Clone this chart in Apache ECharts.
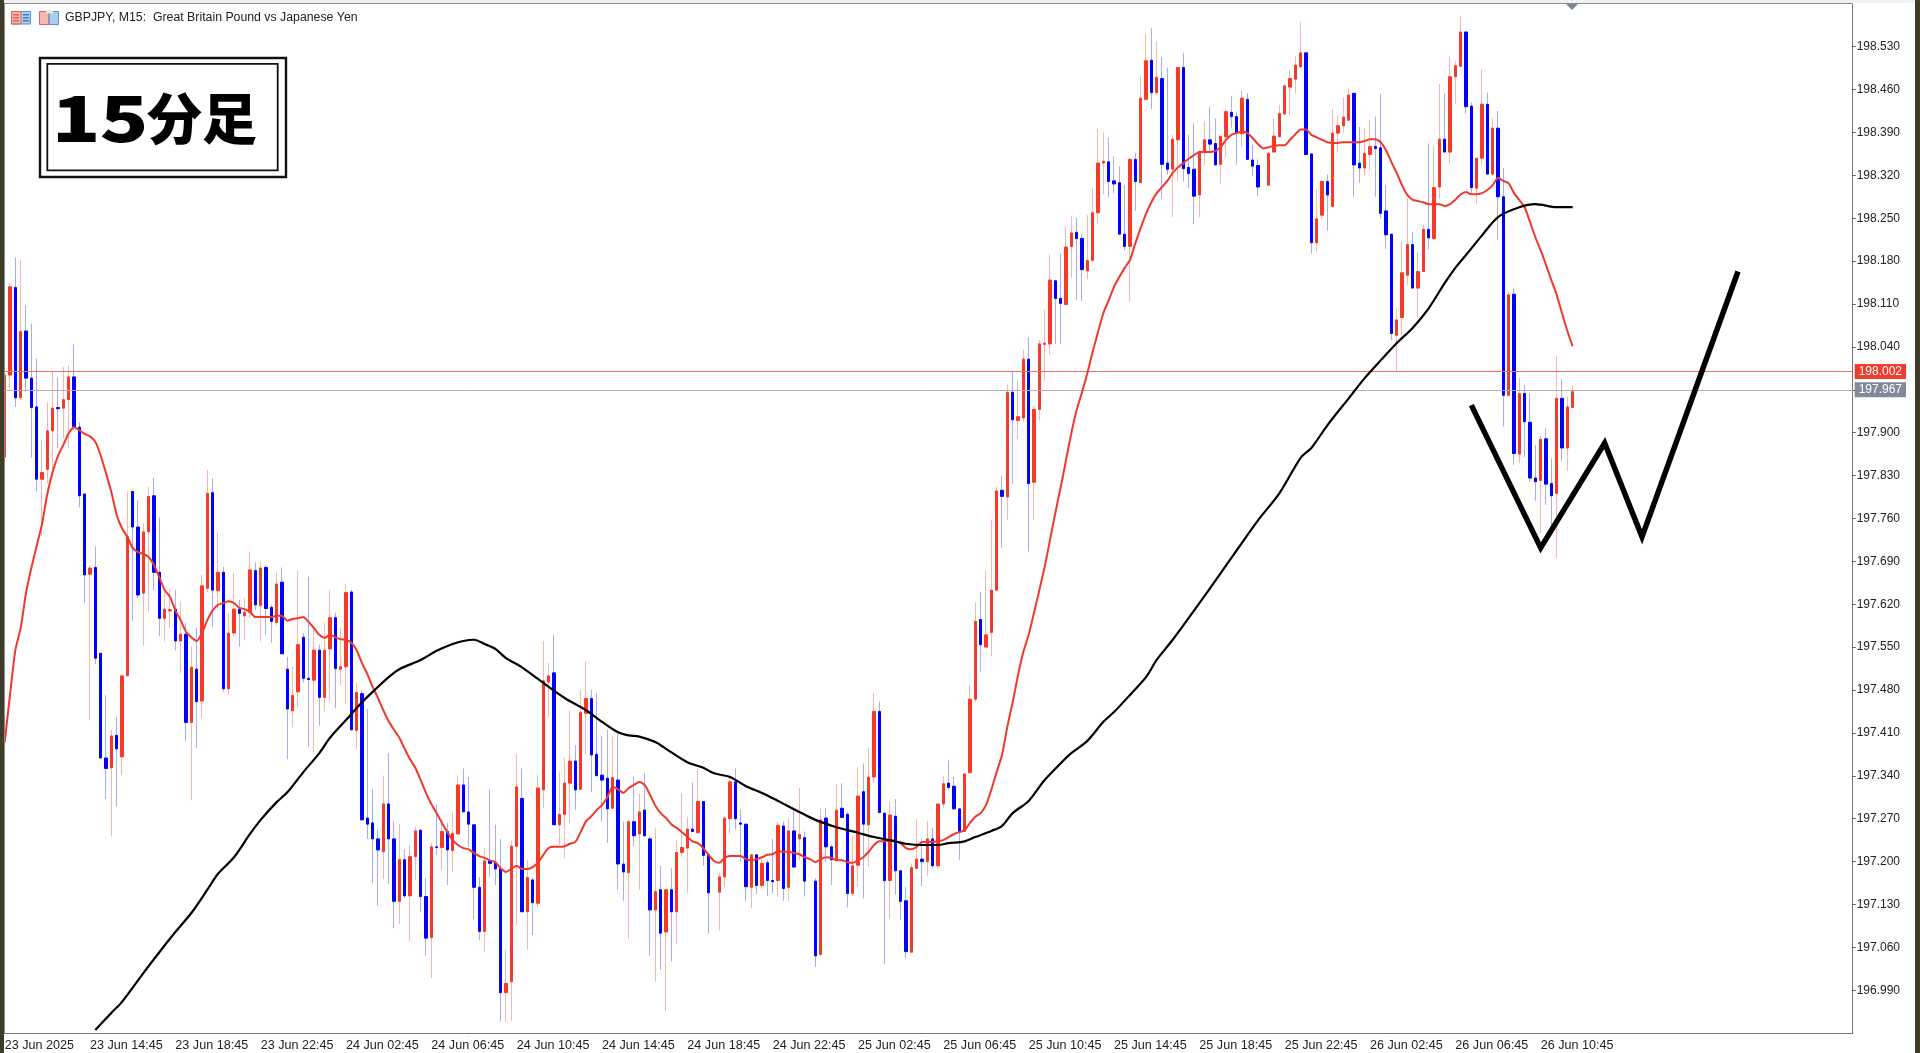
<!DOCTYPE html>
<html><head><meta charset="utf-8"><title>GBPJPY M15</title>
<style>html,body{margin:0;padding:0;background:#fff}#c{width:1920px;height:1053px}</style>
<script src="https://cdn.jsdelivr.net/npm/echarts@6/dist/echarts.min.js"></script></head>
<body><div id="c"></div>
<script>
const tickLabels=["23 Jun 2025","23 Jun 14:45","23 Jun 18:45","23 Jun 22:45","24 Jun 02:45","24 Jun 06:45","24 Jun 10:45","24 Jun 14:45","24 Jun 18:45","24 Jun 22:45","25 Jun 02:45","25 Jun 06:45","25 Jun 10:45","25 Jun 14:45","25 Jun 18:45","25 Jun 22:45","26 Jun 02:45","26 Jun 06:45","26 Jun 10:45"];
const opens=[197.860,197.994,198.137,197.957,198.066,197.989,197.942,197.824,197.840,197.903,
197.941,197.940,197.954,197.991,197.909,197.800,197.669,197.680,197.540,197.369,
197.353,197.406,197.371,197.503,197.804,197.746,197.638,197.738,197.797,197.672,
197.597,197.609,197.612,197.560,197.571,197.427,197.514,197.462,197.646,197.802,
197.642,197.672,197.482,197.573,197.612,197.601,197.607,197.675,197.618,197.680,
197.615,197.590,197.656,197.514,197.446,197.477,197.566,197.499,197.496,197.545,
197.468,197.547,197.598,197.514,197.518,197.640,197.414,197.474,197.271,197.263,
197.237,197.216,197.294,197.237,197.135,197.203,197.144,197.208,197.251,197.143,
197.076,197.224,197.223,197.249,197.218,197.245,197.325,197.281,197.260,197.158,
197.086,197.201,197.198,197.188,196.986,197.004,197.225,197.303,197.118,197.170,
197.132,197.317,197.493,197.508,197.260,197.277,197.328,197.364,197.318,197.442,
197.466,197.375,197.341,197.336,197.287,197.333,197.196,197.182,197.265,197.245,
197.284,197.237,197.121,197.154,197.085,197.154,197.118,197.215,197.222,197.253,
197.247,197.298,197.211,null,197.150,197.175,197.270,197.330,197.263,197.261,
197.158,197.211,197.161,197.198,197.169,197.169,197.258,197.158,197.250,197.237,
197.239,null,197.168,197.048,197.271,197.224,197.203,197.287,197.277,197.148,
197.194,197.314,197.260,197.338,197.445,197.279,197.169,197.274,197.185,197.136,
197.052,197.189,197.204,197.200,197.237,197.193,197.294,197.328,197.323,197.286,
197.249,197.345,197.465,197.595,197.550,197.574,197.643,197.806,197.795,197.966,
197.920,197.924,198.020,197.819,197.938,198.044,198.045,198.148,198.119,198.109,
198.204,198.227,198.217,198.164,198.181,198.259,198.340,198.342,198.311,198.308,
198.224,198.204,198.346,198.308,198.444,198.508,198.455,198.478,198.340,198.330,
198.378,198.496,198.333,198.330,198.288,198.358,198.378,198.372,198.338,198.383,
198.423,198.416,198.388,198.444,198.345,198.336,null,198.304,198.358,198.383,
198.420,198.464,198.477,198.497,198.520,198.355,198.210,198.255,198.310,198.269,
198.389,198.401,198.410,198.454,198.340,198.332,198.354,198.367,198.365,198.262,
198.224,198.059,198.088,198.157,198.207,198.136,198.163,198.232,198.217,198.301,
198.379,198.358,198.481,198.498,198.554,198.433,198.299,198.348,198.436,198.322,
198.397,198.285,197.961,198.126,197.865,197.964,197.917,197.826,197.822,197.890,
197.817,197.801,197.956,197.875,197.941];
const closes=[197.994,198.138,197.957,198.065,197.989,197.941,197.824,197.835,197.903,197.940,
197.939,197.954,197.991,197.910,197.797,197.668,197.679,197.532,197.369,197.352,
197.405,197.384,197.503,197.730,197.746,197.635,197.738,197.796,197.672,197.597,
197.612,197.611,197.560,197.571,197.427,197.517,197.461,197.650,197.801,197.643,
197.672,197.482,197.573,197.612,197.605,197.607,197.676,197.619,197.679,197.613,
197.592,197.653,197.539,197.449,197.471,197.554,197.499,197.497,197.545,197.468,
197.545,197.598,197.515,197.518,197.639,197.415,197.476,197.268,197.261,197.237,
197.219,197.294,197.237,197.135,197.203,197.144,197.208,197.250,197.143,197.075,
197.224,197.223,197.249,197.219,197.246,197.325,197.281,197.261,197.158,197.086,
197.201,197.197,197.188,196.986,197.001,197.225,197.322,197.118,197.174,197.133,
197.320,197.495,197.503,197.260,197.277,197.328,197.364,197.317,197.443,197.466,
197.374,197.340,197.333,197.286,197.337,197.196,197.183,197.265,197.242,197.281,
197.242,197.121,197.151,197.083,197.154,197.118,197.215,197.223,197.253,197.249,
197.298,197.210,197.149,null,197.175,197.271,197.330,197.270,197.261,197.159,
197.211,197.161,197.197,197.169,197.167,197.259,197.156,197.250,197.191,197.244,
197.168,null,197.046,197.268,197.224,197.203,197.284,197.272,197.148,197.193,
197.307,197.261,197.338,197.445,197.280,197.169,197.276,197.185,197.135,197.053,
197.190,197.204,197.200,197.237,197.193,197.294,197.327,197.321,197.286,197.249,
197.343,197.465,197.592,197.554,197.570,197.643,197.805,197.796,197.966,197.921,
197.926,198.020,197.817,197.938,198.045,198.046,198.149,198.119,198.111,198.203,
198.226,198.217,198.166,198.181,198.259,198.340,198.343,198.310,198.306,198.224,
198.204,198.346,198.310,198.446,198.507,198.455,198.480,198.338,198.330,198.379,
198.496,198.331,198.323,198.286,198.358,198.378,198.371,198.337,198.384,198.424,
198.416,198.389,198.446,198.346,198.335,198.301,null,198.356,198.384,198.421,
198.466,198.478,198.500,198.520,198.354,198.210,198.249,198.310,198.288,198.389,
198.401,198.415,198.451,198.337,198.332,198.356,198.367,198.364,198.258,198.223,
198.062,198.084,198.161,198.207,198.136,198.163,198.232,198.218,198.300,198.379,
198.358,198.481,198.499,198.554,198.432,198.300,198.348,198.436,198.322,198.397,
198.285,197.961,198.125,197.866,197.964,197.918,197.826,197.820,197.889,197.816,
197.797,197.956,197.875,197.942,197.967];
const highs=[197.994,198.145,198.186,198.182,198.108,198.078,198.021,197.888,197.949,198.000,
197.990,198.007,198.010,198.044,197.917,197.800,197.684,197.714,197.540,197.472,
197.415,197.436,197.506,197.804,197.804,197.790,197.752,197.812,197.826,197.762,
197.641,197.646,197.643,197.624,197.590,197.551,197.581,197.668,197.839,197.826,
197.737,197.681,197.606,197.671,197.627,197.630,197.706,197.688,197.689,197.684,
197.619,197.672,197.680,197.534,197.519,197.675,197.573,197.665,197.583,197.554,
197.589,197.643,197.606,197.581,197.653,197.643,197.491,197.480,197.449,197.318,
197.252,197.340,197.377,197.265,197.261,197.220,197.227,197.257,197.254,197.173,
197.231,197.293,197.268,197.263,197.280,197.340,197.352,197.338,197.260,197.175,
197.222,197.318,197.260,197.237,197.056,197.234,197.376,197.352,197.203,197.173,
197.341,197.560,197.524,197.570,197.347,197.369,197.447,197.390,197.480,197.527,
197.480,197.475,197.405,197.415,197.404,197.408,197.265,197.268,197.338,197.311,
197.344,197.241,197.254,197.193,197.154,197.189,197.235,197.311,197.273,197.329,
197.351,197.298,197.211,null,197.181,197.274,197.341,197.352,197.285,197.261,
197.211,197.212,197.205,197.203,197.237,197.263,197.265,197.271,197.284,197.320,
197.249,null,197.173,197.287,197.287,197.227,197.326,197.328,197.281,197.242,
197.353,197.360,197.385,197.475,197.461,197.279,197.298,197.302,197.185,197.159,
197.197,197.269,197.238,197.266,197.255,197.294,197.340,197.365,197.338,197.286,
197.343,197.488,197.623,197.640,197.675,197.758,197.812,197.829,197.979,198.001,
197.985,198.035,198.056,197.943,198.051,198.100,198.191,198.148,198.192,198.236,
198.253,198.251,198.224,198.255,198.299,198.397,198.390,198.382,198.351,198.335,
198.304,198.349,198.357,198.481,198.551,198.560,198.539,198.513,198.496,198.386,
198.496,198.520,198.386,198.405,198.361,198.409,198.432,198.413,198.384,198.428,
198.449,198.424,198.459,198.454,198.370,198.346,null,198.358,198.412,198.435,
198.469,198.493,198.514,198.570,198.520,198.355,198.298,198.312,198.321,198.428,
198.417,198.447,198.462,198.454,198.399,198.397,198.410,198.416,198.453,198.304,
198.224,198.103,198.212,198.283,198.228,198.195,198.239,198.372,198.368,198.469,
198.453,198.514,198.506,198.581,198.554,198.439,198.348,198.493,198.455,198.413,
198.425,198.332,198.130,198.136,197.990,197.978,197.964,197.880,197.896,197.907,
197.858,198.025,197.988,197.959,197.978];
const lows=[197.860,197.970,197.942,197.953,197.967,197.859,197.804,197.731,197.817,197.828,
197.875,197.891,197.875,197.904,197.778,197.623,197.431,197.522,197.369,197.302,
197.241,197.290,197.341,197.503,197.593,197.630,197.552,197.608,197.643,197.568,
197.559,197.581,197.545,197.508,197.397,197.300,197.385,197.434,197.640,197.583,
197.611,197.477,197.471,197.568,197.551,197.562,197.597,197.611,197.559,197.570,
197.557,197.585,197.539,197.367,197.419,197.452,197.492,197.388,197.378,197.422,
197.445,197.461,197.450,197.488,197.457,197.415,197.384,197.268,197.237,197.165,
197.128,197.172,197.164,197.091,197.098,197.141,197.070,197.170,197.118,197.046,
197.010,197.211,197.186,197.162,197.183,197.245,197.281,197.224,197.106,197.072,
197.053,197.175,197.162,196.939,196.938,196.940,197.096,197.118,197.056,197.080,
197.125,197.287,197.436,197.260,197.227,197.206,197.263,197.284,197.317,197.374,
197.313,197.340,197.265,197.230,197.287,197.154,197.136,197.074,197.225,197.154,
197.242,197.046,197.004,197.023,196.955,197.037,197.066,197.208,197.149,197.249,
197.247,197.193,197.082,null,197.087,197.158,197.245,197.252,197.200,197.136,
197.124,197.147,197.156,197.144,197.148,197.143,197.136,197.136,197.191,197.203,
197.143,null,197.028,197.048,197.199,197.162,197.203,197.272,197.125,197.143,
197.159,197.140,197.191,197.328,197.280,197.032,197.106,197.146,197.104,197.042,
197.052,197.189,197.160,197.177,197.189,197.189,197.287,197.317,197.284,197.203,
197.249,197.345,197.460,197.510,197.550,197.536,197.643,197.712,197.758,197.817,
197.890,197.918,197.706,197.758,197.920,197.984,198.027,198.045,198.045,198.109,
198.153,198.117,198.115,198.151,198.181,198.240,198.289,198.284,198.291,198.224,
198.198,198.114,198.262,198.308,198.444,198.428,198.451,198.282,198.321,198.252,
198.310,198.310,198.299,198.240,198.252,198.337,198.358,198.337,198.305,198.350,
198.398,198.337,198.366,198.346,198.319,198.286,null,198.304,198.358,198.383,
198.420,198.418,198.454,198.497,198.354,198.192,198.194,198.250,198.230,198.269,
198.358,198.389,198.410,198.285,198.308,198.319,198.329,198.285,198.250,198.200,
198.051,198.000,198.059,198.141,198.136,198.088,198.163,198.199,198.214,198.282,
198.358,198.338,198.437,198.498,198.421,198.291,198.273,198.336,198.322,198.320,
198.214,197.910,197.961,197.847,197.851,197.860,197.820,197.789,197.736,197.782,
197.747,197.695,197.853,197.838,197.941];
const redMA=[197.394,197.472,197.545,197.581,197.638,197.679,197.715,197.751,197.800,197.836,
197.862,197.880,197.899,197.909,197.904,197.898,197.894,197.885,197.863,197.834,
197.803,197.766,197.744,197.730,197.712,197.705,197.702,197.697,197.684,197.664,
197.643,197.632,197.610,197.594,197.575,197.566,197.560,197.573,197.594,197.610,
197.619,197.622,197.625,197.622,197.614,197.612,197.607,197.599,197.599,197.599,
197.599,197.601,197.601,197.593,197.596,197.597,197.599,197.591,197.581,197.570,
197.565,197.570,197.566,197.563,197.562,197.557,197.545,197.524,197.506,197.485,
197.467,197.447,197.429,197.415,197.402,197.384,197.367,197.353,197.333,197.312,
197.294,197.279,197.263,197.248,197.235,197.227,197.222,197.220,197.214,197.209,
197.206,197.202,197.199,197.189,197.183,197.188,197.193,197.188,197.188,197.191,
197.198,197.211,197.222,197.224,197.224,197.225,197.229,197.232,197.248,197.266,
197.274,197.284,197.292,197.305,197.322,197.318,197.312,197.320,197.325,197.330,
197.325,197.309,197.291,197.279,197.271,197.261,197.255,197.248,197.240,197.233,
197.230,197.222,197.211,197.201,197.198,197.206,197.209,197.209,197.209,197.204,
197.202,197.204,197.207,197.211,197.212,197.217,197.216,197.216,197.214,197.212,
197.207,197.204,197.199,197.204,197.207,197.206,197.202,197.202,197.199,197.198,
197.202,197.207,197.216,197.227,197.233,197.233,197.235,197.233,197.230,197.222,
197.220,197.224,197.232,197.232,197.232,197.233,197.235,197.240,197.245,197.248,
197.251,197.263,197.273,197.279,197.292,197.317,197.346,197.374,197.420,197.460,
197.504,197.542,197.570,197.606,197.643,197.681,197.725,197.769,197.811,197.855,
197.899,197.937,197.966,197.997,198.032,198.064,198.095,198.116,198.138,198.154,
198.169,198.182,198.209,198.234,198.257,198.276,198.291,198.301,198.311,198.324,
198.333,198.340,198.347,198.353,198.358,198.358,198.358,198.360,198.366,198.378,
198.386,198.389,198.391,198.389,198.381,198.371,198.364,198.366,198.368,198.369,
198.369,198.378,198.387,198.395,198.395,198.386,198.382,198.378,198.374,198.373,
198.373,198.374,198.374,198.374,198.374,198.376,198.379,198.379,198.374,198.361,
198.342,198.324,198.304,198.288,198.280,198.278,198.276,198.273,198.273,198.273,
198.270,198.273,198.280,198.289,198.293,198.289,198.289,198.291,198.296,198.304,
198.316,198.311,198.307,198.291,198.280,198.268,198.244,198.219,198.198,198.174,
198.149,198.125,198.095,198.066,198.041];
const blackIdx=[17,20,22,26,29,32,35,38,40,43,46,48,51,53,56,59,61,64,67,69,72,74,78,81,84,86,88,90,92,94,97,100,105,109,112,115,117,119,122,124,128,131,133,136,139,142,145,149,152,156,160,163,167,169,172,175,177,180,182,185,187,189,192,195,199,200,203,206,208,211,214,216,219,226,231,235,239,243,245,248,252,255,258,261,264,267,270,272,274,277,280,284,287,291,294];
const blackVal=[196.925,196.953,196.971,197.018,197.052,197.085,197.116,197.154,197.180,197.207,197.245,197.268,197.297,197.313,197.346,197.377,197.402,197.431,197.460,197.477,197.501,197.514,197.529,197.544,197.555,197.560,197.562,197.555,197.547,197.532,197.517,197.498,197.467,197.447,197.428,197.411,197.406,197.404,197.395,197.384,197.362,197.353,197.344,197.338,197.323,197.312,197.299,197.281,197.268,197.256,197.247,197.240,197.233,197.229,197.227,197.227,197.230,197.233,197.240,197.250,197.258,197.279,197.299,197.333,197.369,197.377,197.397,197.428,197.444,197.472,197.501,197.529,197.562,197.646,197.708,197.757,197.801,197.859,197.875,197.912,197.956,197.989,198.018,198.046,198.071,198.103,198.144,198.169,198.190,198.222,198.252,198.268,198.273,198.268,198.268];
const zigIdx=[275,288,300,307,325];
const zigVal=[197.945,197.712,197.883,197.730,198.163];
const bidPrice=198.002, lastPrice=197.967;
const titleText="GBPJPY, M15:  Great Britain Pound vs Japanese Yen";
const badgeDigits=["1","5"], badgeKanji="分足";

const TOTAL=347;
const cats=Array.from({length:TOTAL},(_,i)=>i%16===0?(tickLabels[i/16]||""):"");
const wicks=opens.map((o,i)=>o==null?'-':[o,closes[i],lows[i],highs[i]]);
const bodies=opens.map((o,i)=>o==null?'-':[o,closes[i],Math.min(o,closes[i]),Math.max(o,closes[i])]);
const RED="#f5392a",BLUE="#0000ff",FONT="'Liberation Sans',Arial,sans-serif",JP="'Noto Sans CJK JP'";
const rect=(x,y,w,h,fill,z)=>({type:'rect',shape:{x,y,width:w,height:h},style:{fill},z:z||100,silent:true});
const frame=(x,y,w,h,lw)=>({type:'rect',shape:{x,y,width:w,height:h},style:{fill:'transparent',stroke:'#111',lineWidth:lw},z:101,silent:true});
const heavy=(t,x,sx,size)=>({type:'text',x,y:118,scaleX:sx,style:{text:t,x:0,y:0,align:'center',verticalAlign:'middle',fill:'#000',fontFamily:JP,fontWeight:900,fontSize:size},z:102,silent:true});
const chart=echarts.init(document.getElementById('c'),null,{renderer:'canvas'});
chart.setOption({
 animation:false,backgroundColor:'#fff',
 grid:{left:2,top:3.8,width:1850.67,height:1029.3,show:false},
 xAxis:{type:'category',data:cats,boundaryGap:true,
  axisLine:{lineStyle:{color:'#777',width:1}},
  axisTick:{interval:15,alignWithLabel:true,length:3,lineStyle:{color:'#777'}},
  axisLabel:{interval:15,align:'left',margin:6,color:'#222',fontFamily:FONT,fontSize:12.6,hideOverlap:false,showMaxLabel:false},
  splitLine:{show:false}},
 yAxis:{type:'value',position:'right',min:196.92,max:198.60,interval:0.07,scale:true,
  axisLine:{show:true,lineStyle:{color:'#777',width:1}},
  axisTick:{show:true,length:3,lineStyle:{color:'#555'}},
  axisLabel:{margin:4,color:'#222',fontFamily:FONT,fontSize:12,padding:[2,0,0,0],showMinLabel:false,showMaxLabel:false,formatter:v=>v.toFixed(3)},
  splitLine:{show:false}},
 series:[
  {type:'candlestick',name:'wicks',data:wicks,barWidth:1,z:2,
   itemStyle:{color:'#fbb5ae',color0:'#a9a9ff',borderColor:'#fbb5ae',borderColor0:'#a9a9ff',borderColorDoji:'#fbb5ae',borderWidth:1}},
  {type:'candlestick',name:'bodies',data:bodies,barWidth:3,z:3,
   itemStyle:{color:RED,color0:BLUE,borderColor:RED,borderColor0:BLUE,borderColorDoji:RED,borderWidth:1}},
  {type:'line',name:'MA fast',data:redMA,showSymbol:false,smooth:0.2,z:5,lineStyle:{color:'#f0392b',width:2},
   markLine:{silent:true,symbol:'none',animation:false,data:[
    {yAxis:bidPrice,lineStyle:{color:'#ff6a5e',width:1,type:'solid'},
     label:{show:true,position:'end',distance:2,formatter:bidPrice.toFixed(3),color:'#fff',backgroundColor:'#f23d2e',padding:[2,4,2,4],fontFamily:FONT,fontSize:12,lineHeight:11}},
    {yAxis:lastPrice,lineStyle:{color:'#aeb3bb',width:1,type:'solid'},
     label:{show:true,position:'end',distance:2,formatter:lastPrice.toFixed(3),color:'#fff',backgroundColor:'#7f8b99',padding:[2,4,2,4],fontFamily:FONT,fontSize:12,lineHeight:11}}
   ]}},
  {type:'line',name:'MA slow',data:blackIdx.map((x,i)=>[x,blackVal[i]]),showSymbol:false,smooth:0.3,z:6,lineStyle:{color:'#000',width:2.2}},
  {type:'line',name:'W pattern',data:zigIdx.map((x,i)=>[x,zigVal[i]]),showSymbol:false,z:7,
   lineStyle:{color:'#000',width:5.5,join:'miter',miterLimit:10,cap:'butt'}}
 ],
 graphic:{elements:[
  rect(0,0,1920,3,'#f1f1f1'),
  rect(0,0,4,1053,'#3f3d2a'),
  rect(1915,0,5,1053,'#3f3d2a'),
  rect(4,3,1848,1,'#8c8c8c'),
  rect(4,3,1,1030,'#8c8c8c'),
  {type:'polygon',shape:{points:[[1566,4],[1578,4],[1572,10]]},style:{fill:'#78889a'},z:101,silent:true},
  {type:'text',style:{text:titleText,x:65,y:18,verticalAlign:'middle',fill:'#222',fontFamily:FONT,fontSize:12.3},z:101,silent:true},
  rect(11,11,10,13,'#f3b5ad'),rect(21,11,10,13,'#a9cdf0'),
  {type:'rect',shape:{x:11.5,y:11.5,width:19,height:12.5},style:{fill:'transparent',stroke:'#5b8fcf',lineWidth:1},z:101,silent:true},
  {type:'rect',shape:{x:11.5,y:11.5,width:9.5,height:12.5},style:{fill:'transparent',stroke:'#d9665a',lineWidth:1},z:101,silent:true},
  rect(13,14,6,1.5,'#d9665a',102),rect(13,17,6,1.5,'#d9665a',102),rect(13,20,6,1.5,'#d9665a',102),
  rect(23,14,6,1.5,'#3f7fc4',102),rect(23,17,6,1.5,'#3f7fc4',102),rect(23,20,6,1.5,'#3f7fc4',102),
  rect(39,11,10,14,'#f4b8b0'),rect(49,11,10,14,'#a9cdf0'),
  {type:'rect',shape:{x:39.5,y:11.5,width:9.5,height:13},style:{fill:'transparent',stroke:'#d9665a',lineWidth:1},z:101,silent:true},
  {type:'rect',shape:{x:49,y:11.5,width:9.5,height:13},style:{fill:'transparent',stroke:'#5b8fcf',lineWidth:1},z:101,silent:true},
  rect(46,10,7,3.5,'#e6e6e6',102),
  rect(39,57,248,121,'#fff',100),
  frame(40,58,246,119,2.4),
  frame(47.3,63.8,230.4,106.6,1.8),
  heavy(badgeDigits[0],76,1.25,64),
  heavy(badgeDigits[1],124,1.25,64),
  heavy(badgeKanji,202,1,55)
 ]}
});
</script></body></html>
